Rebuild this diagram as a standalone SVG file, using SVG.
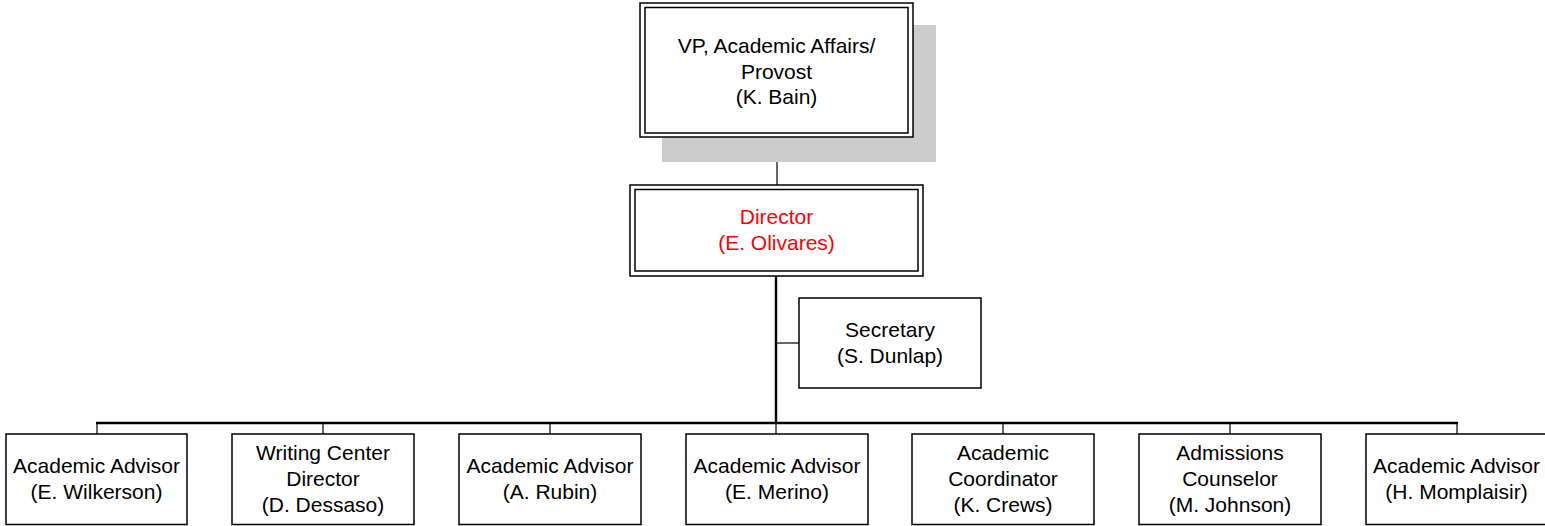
<svg xmlns="http://www.w3.org/2000/svg" width="1545" height="526" viewBox="0 0 1545 526">
<style>
  .box { fill: #ffffff; stroke: #000000; stroke-width: 1.5; }
  .dbl { fill: none; stroke: #000000; stroke-width: 1.5; }
  .shadow { fill: #cccccc; stroke: none; }
  .t { font-family: "Liberation Sans", Arial, sans-serif; font-size: 21px; fill: #000000; text-anchor: middle; }
  .red { fill: #ff0000; }
  .ln { stroke: #000000; stroke-width: 1.2; fill: none; }
  .thick { stroke: #000000; stroke-width: 2.4; fill: none; }
</style>
<rect x="0" y="0" width="1545" height="526" fill="#ffffff"/>

<g id="connectors">
  <line class="ln" x1="777" y1="137" x2="777" y2="185"/>
  <line class="thick" x1="776" y1="276" x2="776" y2="424"/>
  <line class="ln" x1="776" y1="343" x2="799" y2="343"/>
  <line class="thick" x1="96" y1="423" x2="1458" y2="423"/>
  <line class="ln" x1="97" y1="423" x2="97" y2="434"/>
  <line class="ln" x1="323" y1="423" x2="323" y2="434"/>
  <line class="ln" x1="550" y1="423" x2="550" y2="434"/>
  <line class="ln" x1="776" y1="423" x2="776" y2="434"/>
  <line class="ln" x1="1003" y1="423" x2="1003" y2="434"/>
  <line class="ln" x1="1230" y1="423" x2="1230" y2="434"/>
  <line class="ln" x1="1457" y1="423" x2="1457" y2="434"/>
</g>

<g id="vp">
  <rect class="shadow" x="662" y="25" width="274" height="137"/>
  <rect class="box" x="640" y="3" width="273" height="134" stroke-width="2"/>
  <rect class="dbl" x="645" y="7.5" width="263" height="125.5"/>
  <text class="t" x="776.5" y="53">VP, Academic Affairs/</text>
  <text class="t" x="776.5" y="78.5">Provost</text>
  <text class="t" x="776.5" y="104">(K. Bain)</text>
</g>

<g id="director">
  <rect class="box" x="630" y="185" width="293" height="91" stroke-width="1.2"/>
  <rect class="dbl" x="635" y="189.5" width="283" height="81.5" stroke-width="2"/>
  <text class="t red" x="776.5" y="224">Director</text>
  <text class="t red" x="776.5" y="249.5">(E. Olivares)</text>
</g>

<g id="secretary">
  <rect class="box" x="799" y="298" width="182" height="90"/>
  <text class="t" x="890" y="337">Secretary</text>
  <text class="t" x="890" y="362.5">(S. Dunlap)</text>
</g>

<g id="advisor-wilkerson">
  <rect class="box" x="6" y="434" width="181" height="90.5"/>
  <text class="t" x="96.5" y="473">Academic Advisor</text>
  <text class="t" x="96.5" y="498.7">(E. Wilkerson)</text>
</g>

<g id="writing-center">
  <rect class="box" x="232" y="434" width="182" height="90.5"/>
  <text class="t" x="323" y="460.3">Writing Center</text>
  <text class="t" x="323" y="486">Director</text>
  <text class="t" x="323" y="511.7">(D. Dessaso)</text>
</g>

<g id="advisor-rubin">
  <rect class="box" x="459" y="434" width="182" height="90.5"/>
  <text class="t" x="550" y="473">Academic Advisor</text>
  <text class="t" x="550" y="498.7">(A. Rubin)</text>
</g>

<g id="advisor-merino">
  <rect class="box" x="686" y="434" width="182" height="90.5"/>
  <text class="t" x="777" y="473">Academic Advisor</text>
  <text class="t" x="777" y="498.7">(E. Merino)</text>
</g>

<g id="coordinator">
  <rect class="box" x="912" y="434" width="182" height="90.5"/>
  <text class="t" x="1003" y="460.3">Academic</text>
  <text class="t" x="1003" y="486">Coordinator</text>
  <text class="t" x="1003" y="511.7">(K. Crews)</text>
</g>

<g id="admissions">
  <rect class="box" x="1139" y="434" width="182" height="90.5"/>
  <text class="t" x="1230" y="460.3">Admissions</text>
  <text class="t" x="1230" y="486">Counselor</text>
  <text class="t" x="1230" y="511.7">(M. Johnson)</text>
</g>

<g id="advisor-momplaisir">
  <rect class="box" x="1366" y="434" width="181" height="90.5"/>
  <text class="t" x="1456.5" y="473">Academic Advisor</text>
  <text class="t" x="1456.5" y="498.7">(H. Momplaisir)</text>
</g>
</svg>
